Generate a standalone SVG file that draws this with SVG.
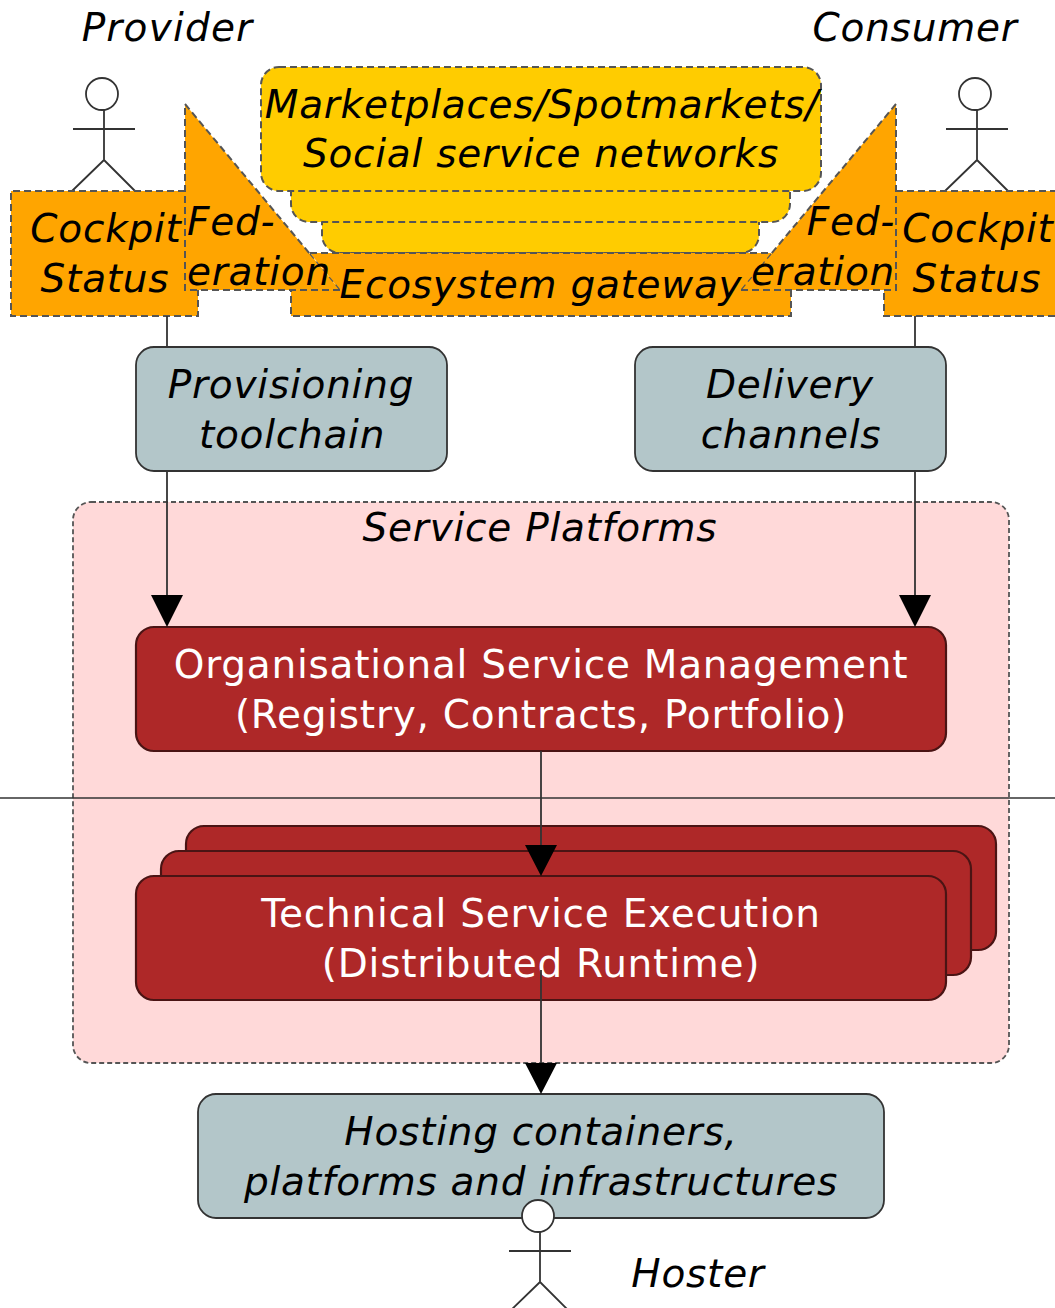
<svg xmlns="http://www.w3.org/2000/svg" width="1055" height="1308" viewBox="0 0 1055 1308">
<style>
text{font-family:"DejaVu Sans",sans-serif;font-size:39px;letter-spacing:.75px;text-anchor:middle}
.i{font-style:oblique;fill:#000}
.w{fill:#fff}
.y{fill:#ffcc00;stroke:#555;stroke-width:2;stroke-dasharray:7 4}
.o{fill:none;stroke:#555;stroke-width:2;stroke-dasharray:7 4}
.f{fill:#ffa500}
.t{fill:none;stroke:#555;stroke-width:1.2;stroke-dasharray:6 4}
.g{fill:#b3c6c9;stroke:#333;stroke-width:1.8}
.r{fill:#ae2828;stroke:#4a1414;stroke-width:2.2}
.l{fill:none;stroke:#333;stroke-width:1.8}
.a{fill:#fff;stroke:#333;stroke-width:1.8}
</style>
<defs>
<g id="actor"><circle class="a" cx="0" cy="0" r="16"/><path class="l" d="M2 16V66M-29 35H33M2 66L-30 97M2 66L33 97"/></g>
</defs>
<g id="service-platforms"><rect x="73" y="502" width="936" height="561" rx="18" fill="#ffd9d9" stroke="#555" stroke-width="1.8" stroke-dasharray="5 3"/><text class="i" x="540" y="540.5">Service Platforms</text></g>
<line x1="0" y1="798" x2="1055" y2="798" stroke="#333" stroke-width="1.4"/>
<g id="provider"><use href="#actor" x="102" y="94"/><text class="i" x="167.500" y="40.500" style="letter-spacing:1.2px">Provider</text></g>
<g id="consumer"><use href="#actor" x="975" y="94"/><text class="i" x="915" y="40.500">Consumer</text></g>
<g id="marketplaces">
<rect class="y" x="322" y="200" width="437" height="53" rx="18"/>
<rect class="y" x="291" y="170" width="499" height="52" rx="18"/>
<rect class="y" x="261" y="67" width="560" height="124" rx="18"/>
<text class="i" x="542" y="117.500">Marketplaces/Spotmarkets/</text><text class="i" x="541" y="166.500">Social service networks</text></g>
<g id="ecosystem-gateway"><path class="f" d="M310 253H771V290L791 290V316H291V290H340Z"/><path class="o" d="M310 253H771M791 290V316H291V290"/></g>
<g id="cockpit-left"><path class="f" d="M11 191H185V290H198V316H11Z"/><path class="o" d="M185 191H11V316H198V290"/><text class="i" x="106" y="241.500">Cockpit</text><text class="i" x="105" y="291.500">Status</text></g>
<g id="cockpit-right"><path class="f" d="M896 191H1056V316H884V290H896Z"/><path class="o" d="M896 191H1056V316H884V290"/><text class="i" x="978" y="241.500">Cockpit</text><text class="i" x="977" y="291.500">Status</text></g>
<g id="federation-left"><path class="f" d="M185 104L340 290H185Z"/><path class="o" d="M340 290H185V104L310 254"/><path class="t" d="M310 254L340 290"/><text class="i" x="187" y="234.500" style="text-anchor:start">Fed-</text><text class="i" x="187" y="284.500" style="text-anchor:start">eration</text></g>
<g id="federation-right"><path class="f" d="M896 104L741 290H896Z"/><path class="o" d="M741 290H896V104L771 254"/><path class="t" d="M771 254L741 290"/><text class="i" x="895" y="234.500" style="text-anchor:end">Fed-</text><text class="i" x="895" y="284.500" style="text-anchor:end">eration</text></g>
<text id="ecosystem-label" class="i" x="541" y="297.500">Ecosystem gateway</text>
<g id="provisioning"><rect class="g" x="136" y="347" width="311" height="124" rx="18"/><text class="i" x="291" y="397.500">Provisioning</text><text class="i" x="292" y="447.500">toolchain</text></g>
<g id="delivery"><rect class="g" x="635" y="347" width="311" height="124" rx="18"/><text class="i" x="790" y="397.500">Delivery</text><text class="i" x="791" y="447.500">channels</text></g>
<g id="osm"><rect class="r" x="136" y="627" width="810" height="124" rx="18"/><text class="w" x="541" y="678">Organisational Service Management</text><text class="w" x="541" y="727.500">(Registry, Contracts, Portfolio)</text></g>
<g id="tse"><rect class="r" x="186" y="826" width="810" height="124" rx="18"/><rect class="r" x="161" y="851" width="810" height="124" rx="18"/><rect class="r" x="136" y="876" width="810" height="124" rx="18"/><text class="w" x="541" y="927">Technical Service Execution</text><text class="w" x="541" y="977">(Distributed Runtime)</text></g>
<g id="hosting"><rect class="g" x="198" y="1094" width="686" height="124" rx="18"/><text class="i" x="541" y="1145">Hosting containers,</text><text class="i" x="541" y="1195">platforms and infrastructures</text></g>
<g id="hoster"><use href="#actor" x="538" y="1216"/><text class="i" x="698" y="1286.500">Hoster</text></g>
<g id="connectors">
<path class="l" d="M167 316V347M915 316V347M167 471V600M915 471V600M541 751V850M541 970V1068"/>
<path d="M151 595H183L167 627ZM899 595H931L915 627ZM525 845H557L541 876ZM525 1063H557L541 1094Z" fill="#000"/>
</g>
</svg>
